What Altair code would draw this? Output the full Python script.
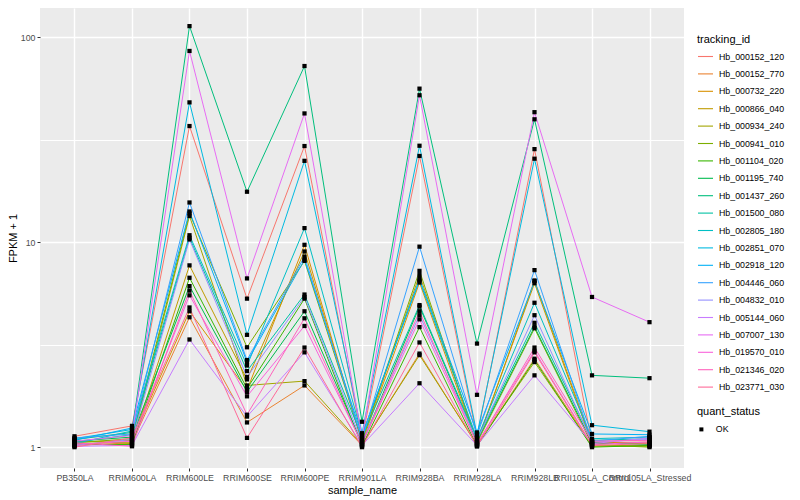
import math
import altair as alt
import pandas as pd

samples = ["PB350LA", "RRIM600LA", "RRIM600LE", "RRIM600SE", "RRIM600PE", "RRIM901LA",
           "RRIM928BA", "RRIM928LA", "RRIM928LB", "RRII105LA_Control", "RRII105LA_Stressed"]

tracking_ids = ["Hb_000152_120", "Hb_000152_770", "Hb_000732_220", "Hb_000866_040", "Hb_000934_240",
                "Hb_000941_010", "Hb_001104_020", "Hb_001195_740", "Hb_001437_260", "Hb_001500_080",
                "Hb_002805_180", "Hb_002851_070", "Hb_002918_120", "Hb_004446_060", "Hb_004832_010",
                "Hb_005144_060", "Hb_007007_130", "Hb_019570_010", "Hb_021346_020", "Hb_023771_030"]

# FPKM + 1 per sample (same order as samples)
Hb_000152_120 = [1.13, 1.27, 36.8, 5.3, 29.4, 1.10, 26.3, 1.12, 28.4, 1.05, 1.06]
Hb_000152_770 = [1.02, 1.05, 4.3, 1.32, 2.0, 1.02, 2.86, 1.02, 2.7, 1.02, 1.02]
Hb_000732_220 = [1.06, 1.08, 4.6, 1.9, 9.7, 1.05, 6.35, 1.04, 6.5, 1.06, 1.04]
Hb_000866_040 = [1.08, 1.04, 7.7, 2.14, 9.0, 1.07, 6.9, 1.06, 6.3, 1.04, 1.05]
Hb_000934_240 = [1.04, 1.06, 13.4, 2.0, 2.1, 1.03, 2.81, 1.03, 2.6, 1.01, 1.01]
Hb_000941_010 = [1.05, 1.10, 13.8, 3.07, 8.1, 1.08, 7.24, 1.05, 3.8, 1.03, 1.0]
Hb_001104_020 = [1.03, 1.03, 6.7, 1.93, 5.3, 1.01, 3.85, 1.01, 2.66, 1.0, 1.02]
Hb_001195_740 = [1.07, 1.12, 6.1, 1.86, 4.6, 1.04, 4.85, 1.07, 3.86, 1.05, 1.03]
Hb_001437_260 = [1.09, 1.18, 113.0, 17.6, 72.2, 1.33, 56.0, 3.2, 39.7, 2.24, 2.17]
Hb_001500_080 = [1.06, 1.15, 10.5, 2.35, 5.55, 1.12, 4.93, 1.09, 4.04, 1.08, 1.10]
Hb_002805_180 = [1.04, 1.20, 10.8, 2.5, 11.7, 1.15, 6.5, 1.10, 5.06, 1.10, 1.12]
Hb_002851_070 = [1.10, 1.22, 48.0, 3.53, 24.9, 1.17, 29.5, 1.15, 25.5, 1.28, 1.19]
Hb_002918_120 = [1.08, 1.24, 14.1, 2.6, 8.2, 1.14, 6.6, 1.18, 6.45, 1.16, 1.15]
Hb_004446_060 = [1.11, 1.16, 15.6, 2.66, 8.5, 1.09, 9.5, 1.14, 7.3, 1.07, 1.13]
Hb_004832_010 = [1.02, 1.09, 10.3, 2.2, 5.4, 1.06, 4.4, 1.08, 4.4, 1.06, 1.09]
Hb_005144_060 = [1.01, 1.02, 3.35, 1.41, 2.9, 1.02, 2.05, 1.02, 2.24, 1.04, 1.11]
Hb_007007_130 = [1.07, 1.14, 85.5, 6.65, 42.4, 1.11, 52.0, 1.8, 43.0, 5.4, 4.07]
Hb_019570_010 = [1.03, 1.07, 5.5, 1.77, 3.9, 1.04, 4.2, 1.04, 2.95, 1.03, 1.06]
Hb_021346_020 = [1.05, 1.01, 5.8, 1.44, 4.25, 1.03, 4.6, 1.03, 3.06, 1.07, 1.08]
Hb_023771_030 = [1.0, 1.11, 4.8, 1.11, 3.06, 1.0, 3.24, 1.01, 2.9, 1.02, 1.04]

series = [Hb_000152_120, Hb_000152_770, Hb_000732_220, Hb_000866_040, Hb_000934_240,
          Hb_000941_010, Hb_001104_020, Hb_001195_740, Hb_001437_260, Hb_001500_080,
          Hb_002805_180, Hb_002851_070, Hb_002918_120, Hb_004446_060, Hb_004832_010,
          Hb_005144_060, Hb_007007_130, Hb_019570_010, Hb_021346_020, Hb_023771_030]

y_breaks = [1, 10, 100]
y_minor = [3.162, 31.62]


def hcl_hex(h, c=100.0, l=65.0):
    hr = math.radians(h)
    u, v = c * math.cos(hr), c * math.sin(hr)
    Xn, Yn, Zn = 95.047, 100.0, 108.883
    den = Xn + 15 * Yn + 3 * Zn
    un, vn = 4 * Xn / den, 9 * Yn / den
    Y = Yn * ((l + 16) / 116) ** 3
    up, vp = u / (13 * l) + un, v / (13 * l) + vn
    X = 9.0 * Y * up / (4 * vp)
    Z = -X / 3 - 5 * Y + 3 * Y / vp
    X, Y, Z = X / 100, Y / 100, Z / 100
    rgb = [3.240479 * X - 1.537150 * Y - 0.498535 * Z,
           -0.969256 * X + 1.875992 * Y + 0.041556 * Z,
           0.055648 * X - 0.204043 * Y + 1.057311 * Z]
    out = []
    for t in rgb:
        t = 12.92 * t if t <= 0.0031308 else 1.055 * t ** (1 / 2.4) - 0.055
        out.append(int(round(min(max(t, 0), 1) * 255)))
    return "#%02X%02X%02X" % tuple(out)


n = len(tracking_ids)
palette = [hcl_hex(15 + 360.0 / n * i) for i in range(n)]

rows = []
for tid, vals in zip(tracking_ids, series):
    for s, v in zip(samples, vals):
        rows.append({"tracking_id": tid, "sample_name": s, "value": v, "quant_status": "OK"})
df = pd.DataFrame(rows)

FONT = "Liberation Sans"
is_major = "indexof(%s, datum.value) >= 0" % str(y_breaks)

x_axis = alt.Axis(labelAngle=0, labelOverlap=False, labelLimit=0, labelBound=False,
                  domain=False, tickColor="#333333", tickSize=3, tickWidth=1,
                  labelColor="#4D4D4D", labelFontSize=8.8, labelPadding=2,
                  grid=True, gridColor="white", gridWidth=1.4,
                  titleFontSize=11, titleColor="black", titleFontWeight="normal",
                  titlePadding=3, titleFont=FONT, labelFont=FONT)
y_axis = alt.Axis(values=sorted(y_breaks + y_minor), format="d",
                  labelExpr="%s ? datum.label : ''" % is_major,
                  domain=False,
                  tickColor={"condition": {"test": is_major, "value": "#333333"}, "value": "transparent"},
                  tickSize=3, tickWidth=1, labelColor="#4D4D4D", labelFontSize=8.8,
                  labelPadding=2, grid=True, gridColor="white",
                  gridWidth={"condition": {"test": is_major, "value": 1.4}, "value": 1.0},
                  titleFontSize=11, titleColor="black", titleFontWeight="normal",
                  titleX=-27, titleBaseline="middle",
                  titleFont=FONT, labelFont=FONT)

x_scale = alt.Scale(type="point", padding=0.6)
y_scale = alt.Scale(type="log", domain=[0.7915, 138.5], nice=False)

lines = alt.Chart(df).mark_line(strokeWidth=1).encode(
    x=alt.X("sample_name:N", sort=samples, title="sample_name", scale=x_scale, axis=x_axis),
    y=alt.Y("value:Q", title="FPKM + 1", scale=y_scale, axis=y_axis),
    color=alt.Color("tracking_id:N", sort=tracking_ids,
                    scale=alt.Scale(domain=tracking_ids, range=palette),
                    legend=alt.Legend(title="tracking_id", orient="none", legendX=657, legendY=26,
                                      symbolType="stroke", symbolSize=225, symbolStrokeWidth=1.1,
                                      labelFontSize=8.8, labelColor="black", labelFont=FONT,
                                      titleFontSize=11, titleColor="black", titleFontWeight="normal",
                                      titleFont=FONT, titlePadding=3, rowPadding=3.4, labelOffset=5,
                                      padding=0, labelLimit=200)),
    order=alt.Order("sample_order:Q"),
    detail="tracking_id:N",
).transform_calculate(sample_order="indexof(%s, datum.sample_name)" % str(samples))

points = alt.Chart(df).mark_point(filled=True, color="black", size=18, opacity=1).encode(
    x=alt.X("sample_name:N", sort=samples, scale=x_scale, axis=x_axis, title="sample_name"),
    y=alt.Y("value:Q", scale=y_scale, axis=y_axis, title="FPKM + 1"),
    shape=alt.Shape("quant_status:N", scale=alt.Scale(domain=["OK"], range=["square"]),
                    legend=alt.Legend(title="quant_status", orient="none", legendX=657, legendY=398,
                                      symbolSize=16, symbolFillColor="black", symbolStrokeColor="black",
                                      labelFontSize=8.8, labelColor="black", labelFont=FONT,
                                      titleFontSize=11, titleColor="black", titleFontWeight="normal",
                                      titleFont=FONT, titlePadding=8, labelOffset=10, padding=0)),
)

chart = alt.layer(lines, points).properties(
    width=644, height=460,
    autosize=alt.AutoSizeParams(type="none"),
    padding={"left": 32, "top": 0, "right": 108, "bottom": 32},
).configure(background="white").configure_view(fill="#EBEBEB", stroke=None)

chart.save("out.html", embed_options={"renderer": "svg", "actions": False})
